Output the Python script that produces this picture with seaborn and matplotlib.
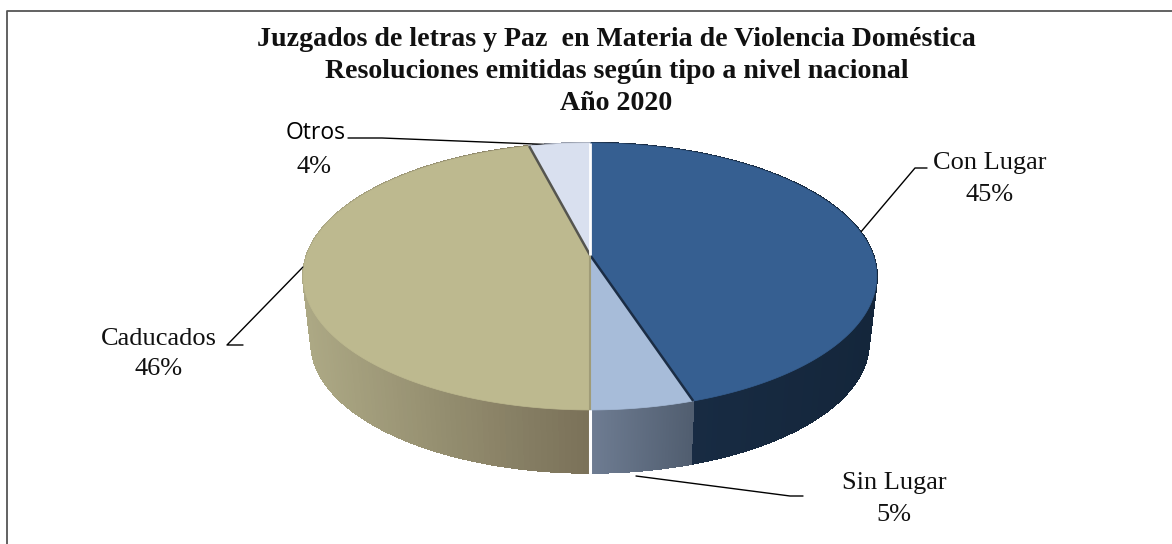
import numpy as np
import matplotlib
matplotlib.use("Agg")
import matplotlib.pyplot as plt
from matplotlib.patches import Polygon
from matplotlib.collections import PolyCollection
from matplotlib.colors import to_rgb
import seaborn as sns

categories = ["Con Lugar", "Sin Lugar", "Caducados", "Otros"]
values = [45, 5, 46, 4]
pct_labels = ["45%", "5%", "46%", "4%"]
top_colors = ["#365F91", "#A7BCD9", "#BDB98F", "#D9E0EF"]
wall_left = ["#1A2E47", "#6F7D93", "#ADA985", "#9AA0AE"]
wall_right = ["#14263B", "#515E70", "#7A7159", "#9AA0AE"]
title_lines = ["Juzgados de letras y Paz  en Materia de Violencia Doméstica",
               "Resoluciones emitidas según tipo a nivel nacional",
               "Año 2020"]

sns.set_theme(style="white")
SERIF = ["Liberation Serif", "DejaVu Serif"]
fig = plt.figure(figsize=(11.72, 5.44), dpi=100)
ax = fig.add_axes([0, 0, 1, 1])
wedges, _ = ax.pie(values, colors=sns.color_palette(top_colors), startangle=90,
                   counterclock=False, radius=1)
ax.set_aspect("auto")
ax.set_xlim(0, 1172)
ax.set_ylim(544, 0)
ax.axis("off")

CX, CY, R, C, K = 590, 255, 283, 130, 0.161

def project(theta, scale=1.0, dy=0.0):
    t = np.radians(theta)
    u, v = np.cos(t), np.sin(t)
    d = 1 + K * v
    return CX + scale * R * u / d, CY + dy - scale * C * v / d

# frame: only the top and left edges show in the reference
ax.plot([6.5, 6.5, 1172], [544, 10.5, 10.5], color="#555555", lw=1.3, zorder=1)

# side walls
for w, cl, cr in zip(wedges, wall_left, wall_right):
    th = np.linspace(w.theta1, w.theta2, 160)
    x0, y0 = project(th)
    x1, y1 = project(th, 0.972, 67)
    quads, cols = [], []
    xmin, xmax = x0.min(), x0.max()
    cl, cr = np.array(to_rgb(cl)), np.array(to_rgb(cr))
    for i in range(len(th) - 1):
        quads.append([(x0[i], y0[i]), (x0[i+1], y0[i+1]), (x1[i+1], y1[i+1]), (x1[i], y1[i])])
        f = (0.5 * (x0[i] + x0[i+1]) - xmin) / max(xmax - xmin, 1)
        cols.append(cl + (cr - cl) * f)
    ax.add_collection(PolyCollection(quads, facecolors=cols, edgecolors=cols, linewidths=1.0,
                                     antialiased=False, zorder=2))

# white gap in the wall between Sin Lugar and Caducados
b = wedges[1].theta1
x0, y0 = project(b)
x1, y1 = project(b, 0.972, 67)
ax.plot([x0, x1], [y0, y1], color="white", lw=2.2, zorder=3)

# top faces
for w, col in zip(wedges, top_colors):
    w.set_visible(False)
    th = np.linspace(w.theta1, w.theta2, 160)
    x, y = project(th)
    ax.add_patch(Polygon(np.column_stack([np.r_[CX, x], np.r_[CY, y]]), closed=True,
                         fc=col, ec=col, lw=0.5, zorder=4))

def spoke(theta, color, lw):
    x, y = project(theta)
    ax.plot([CX, x], [CY, y], color=color, lw=lw, zorder=5, solid_capstyle="butt")

spoke(wedges[0].theta1, "#1B2D45", 1.8)
spoke(wedges[1].theta1, "#A09C78", 1.5)
spoke(wedges[2].theta1, "#55554F", 1.8)
spoke(wedges[3].theta1, "white", 2.0)

# title
for line, y in zip(title_lines, [40, 72, 104]):
    ax.text(616.5, y, line, ha="center", va="center", fontsize=20.1, fontweight="bold",
            family=SERIF, color="#111111", zorder=6)

# labels and leader lines
lab = {"Con Lugar": (990, 163, 990, 195), "Sin Lugar": (894, 483, 894, 515),
       "Caducados": (159, 339, 159, 369), "Otros": (316, 133, 314, 167)}
for cat, pct in zip(categories, pct_labels):
    x, y, px, py = lab[cat]
    if cat == "Otros":
        ax.text(x, y, cat, ha="center", va="center", fontsize=16.5, family=["Open Sans"],
                color="black", zorder=6)
    else:
        ax.text(x, y, cat, ha="center", va="center", fontsize=19, family=SERIF, color="#111111", zorder=6)
    ax.text(px, py, pct, ha="center", va="center", fontsize=19, family=SERIF, color="#111111", zorder=6)

leaders = [
    ([927, 915, 860], [168, 168, 233]),
    ([636, 790, 803], [476, 496, 496]),
    ([243, 227, 303], [345, 345, 267]),
    ([348, 382, 560], [138, 138, 145]),
]
for xs, ys in leaders:
    ax.plot(xs, ys, color="black", lw=1.0, zorder=3)

fig.savefig("out.png", dpi=100)
